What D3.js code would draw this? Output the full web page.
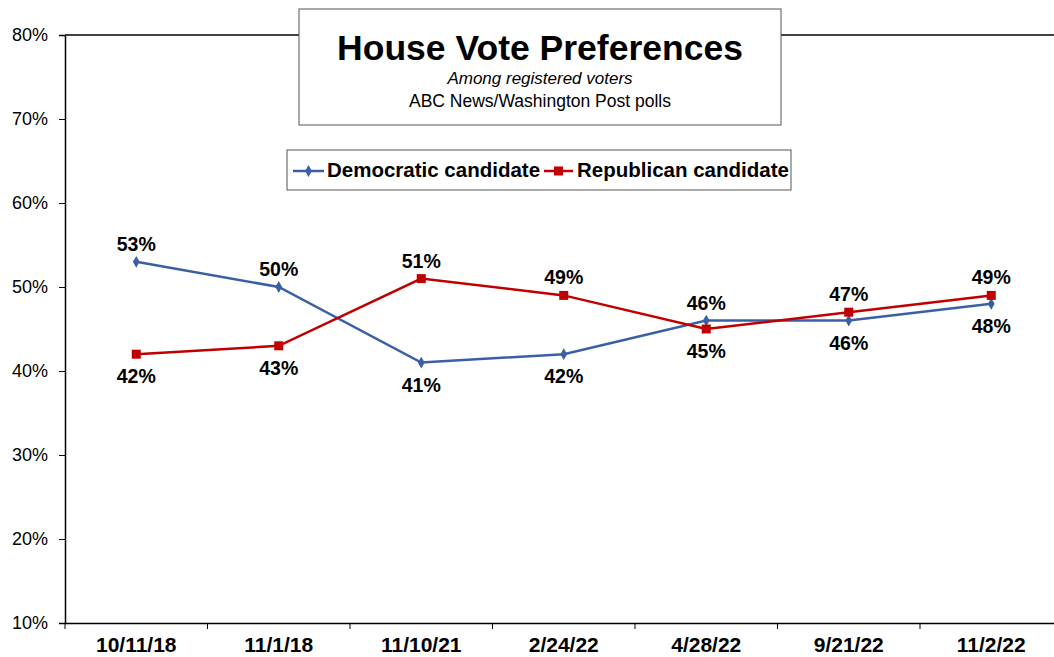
<!DOCTYPE html>
<html><head><meta charset="utf-8">
<script src="https://cdn.jsdelivr.net/npm/d3@7"></script>
<style>
html,body{margin:0;padding:0;background:#fff;}
svg{display:block;font-family:"Liberation Sans",Arial,sans-serif;}
</style></head>
<body><svg id="c" width="1054" height="657"></svg>
<script>
const categories = ["10/11/18","11/1/18","11/10/21","2/24/22","4/28/22","9/21/22","11/2/22"];
const democratic = [53,50,41,42,46,46,48];
const republican = [42,43,51,49,45,47,49];
const yTicks = [10,20,30,40,50,60,70,80];
const seriesNames = ["Democratic candidate","Republican candidate"];

const svg = d3.select("#c");
const L = 65, R = 1062.5, T = 35, B = 623;
const x = d3.scaleBand().domain(categories).range([L, R]);
const y = d3.scaleLinear().domain([10, 80]).range([B, T]);
const blue = "#3A5FA5", red = "#C00000";
const FF = "'Liberation Sans',Arial,sans-serif";

// top border line
svg.append("line").attr("x1", L).attr("x2", 1054).attr("y1", y(80)).attr("y2", y(80))
  .attr("stroke", "#000").attr("stroke-width", 1.5);

// y axis
const ya = svg.append("g").attr("transform", `translate(${L},0)`)
  .call(d3.axisLeft(y).tickValues(yTicks).tickSize(6).tickPadding(11).tickFormat(d => d + "%"));
ya.select(".domain").attr("stroke", "#000").attr("stroke-width", 1.5);
ya.selectAll(".tick line").attr("stroke", "#000");
ya.selectAll(".tick text").attr("font-size", 18).attr("fill", "#000").attr("font-family", FF);

// x axis
const xa = svg.append("g").attr("transform", `translate(0,${B})`)
  .call(d3.axisBottom(x).tickSize(0).tickPadding(14));
xa.select(".domain").attr("stroke", "#000").attr("stroke-width", 1.5);
xa.selectAll(".tick text").attr("font-size", 21).attr("font-weight", "bold").attr("fill", "#000")
  .attr("font-family", FF);
// category boundary ticks
svg.append("g").selectAll("line").data(categories).join("line")
  .attr("x1", d => x(d)).attr("x2", d => x(d))
  .attr("y1", B).attr("y2", B + 6).attr("stroke", "#000").attr("stroke-width", 1);

const cx = d => x(d) + x.bandwidth() / 2;
const line = d3.line().x((d, i) => cx(categories[i])).y(d => y(d));

svg.append("path").datum(democratic).attr("d", line).attr("fill", "none")
  .attr("stroke", blue).attr("stroke-width", 2.5);
svg.append("path").datum(republican).attr("d", line).attr("fill", "none")
  .attr("stroke", red).attr("stroke-width", 2.5);

const diamond = d3.symbol().type(d3.symbolDiamond).size(40);
svg.append("g").selectAll("path").data(democratic).join("path")
  .attr("d", diamond).attr("fill", blue)
  .attr("transform", (d, i) => `translate(${cx(categories[i])},${y(d)})`);
svg.append("g").selectAll("rect").data(republican).join("rect")
  .attr("x", (d, i) => cx(categories[i]) - 4.5).attr("y", d => y(d) - 4.5)
  .attr("width", 9).attr("height", 9).attr("fill", red);

// data labels
function labels(vals, other) {
  svg.append("g").selectAll("text").data(vals).join("text")
    .attr("x", (d, i) => cx(categories[i]))
    .attr("y", (d, i) => d > other[i] ? y(d) - 11 : y(d) + 29)
    .attr("text-anchor", "middle").attr("font-size", 19.5).attr("font-weight", "bold")
    .attr("fill", "#000").text(d => d + "%");
}
labels(democratic, republican);
labels(republican, democratic);

// title box
svg.append("rect").attr("x", 299).attr("y", 9).attr("width", 482).attr("height", 116)
  .attr("fill", "#fff").attr("stroke", "#555").attr("stroke-width", 1);
svg.append("text").attr("x", 540).attr("y", 60).attr("text-anchor", "middle")
  .attr("font-size", 35.5).attr("font-weight", "bold").text("House Vote Preferences");
svg.append("text").attr("x", 540).attr("y", 84).attr("text-anchor", "middle")
  .attr("font-size", 17).attr("font-style", "italic").text("Among registered voters");
svg.append("text").attr("x", 540).attr("y", 107).attr("text-anchor", "middle")
  .attr("font-size", 17.5).text("ABC News/Washington Post polls");

// legend
svg.append("rect").attr("x", 287).attr("y", 150).attr("width", 504).attr("height", 40)
  .attr("fill", "#fff").attr("stroke", "#555").attr("stroke-width", 1);
svg.append("line").attr("x1", 293).attr("x2", 324).attr("y1", 171).attr("y2", 171)
  .attr("stroke", blue).attr("stroke-width", 2.5);
svg.append("path").attr("d", diamond).attr("fill", blue).attr("transform", "translate(308.5,171)");
svg.append("text").attr("x", 327).attr("y", 177).attr("font-size", 20.5).attr("font-weight", "bold")
  .text(seriesNames[0]);
svg.append("line").attr("x1", 544).attr("x2", 573).attr("y1", 171).attr("y2", 171)
  .attr("stroke", red).attr("stroke-width", 2.5);
svg.append("rect").attr("x", 554).attr("y", 166.5).attr("width", 9).attr("height", 9).attr("fill", red);
svg.append("text").attr("x", 577).attr("y", 177).attr("font-size", 20.5).attr("font-weight", "bold")
  .text(seriesNames[1]);
</script></body></html>
